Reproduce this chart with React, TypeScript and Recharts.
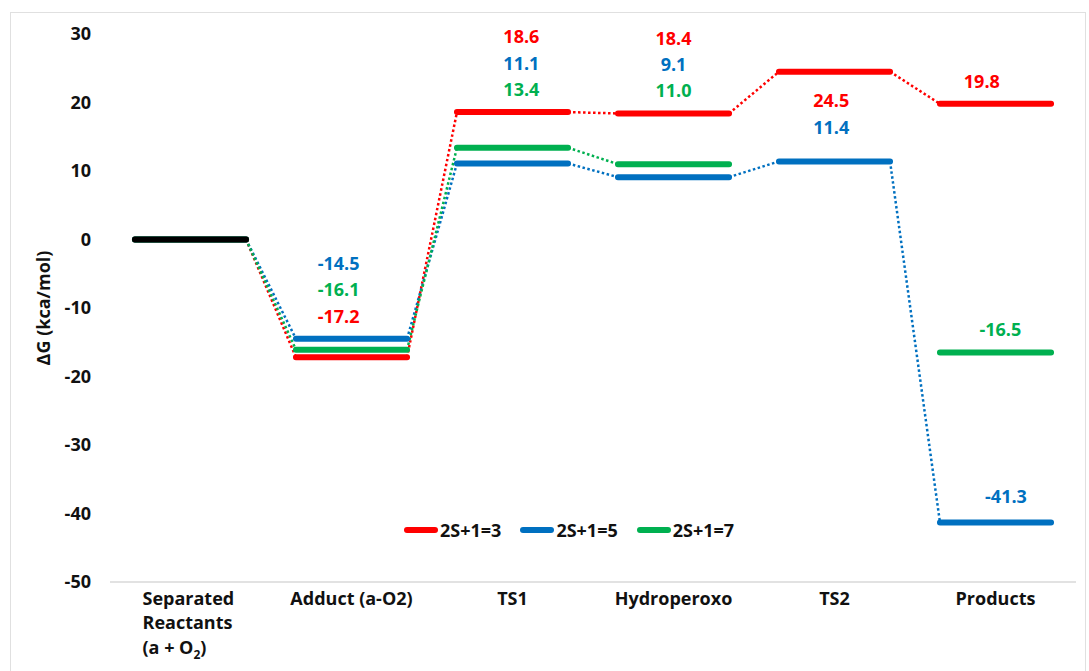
import React from 'react';
import { LineChart, Line, XAxis, YAxis, ReferenceDot, Legend } from 'recharts';

const categories = ['Separated Reactants (a + O2)', 'Adduct (a-O2)', 'TS1', 'Hydroperoxo', 'TS2', 'Products'];
const tripletValues: (number | null)[] = [0, -17.2, 18.6, 18.4, 24.5, 19.8];
const quintetValues: (number | null)[] = [0, -14.5, 11.1, 9.1, 11.4, -41.3];
const septetValues: (number | null)[] = [0, -16.1, 13.4, 11.0, null, -16.5];
const reactantValues: (number | null)[] = [0, null, null, null, null, null];
const seriesNames = ['2S+1=3', '2S+1=5', '2S+1=7'];
const yTicks = [-50, -40, -30, -20, -10, 0, 10, 20, 30];
// order (top to bottom) in which the value labels of each state are listed
const labelOrder: number[][] = [[], [1, 2, 0], [0, 1, 2], [0, 1, 2], [0, 1], [0, 2, 1]];

const COLORS = ['#FF0000', '#0070C0', '#00B050'];
const FONT = '"Open Sans", sans-serif';
const HALF = 0.345;
const seriesValues = [tripletValues, quintetValues, septetValues];
// small horizontal nudges of the value labels (category units)
const catNudge = [0, -0.08, 0.055, 0, -0.02, 0];
const productNudge = [-0.085, 0.065, 0.03];

type Pt = { x: number; y: number | null };

function levelData(values: (number | null)[]): Pt[] {
  const out: Pt[] = [];
  values.forEach((v, i) => {
    if (v === null) return;
    out.push({ x: i - HALF, y: v }, { x: i + HALF, y: v }, { x: i + 0.5, y: null });
  });
  return out;
}

function connectorData(values: (number | null)[]): Pt[] {
  const out: Pt[] = [];
  for (let i = 0; i < values.length - 1; i++) {
    const a = values[i];
    const b = values[i + 1];
    if (a === null || b === null) continue;
    out.push({ x: i + HALF, y: a }, { x: i + 1 - HALF, y: b }, { x: i + 1, y: null });
  }
  return out;
}

type LabelItem = { x: number; y: number; s: number; text: string };
const labelItems: LabelItem[] = [];
categories.forEach((_, i) => {
  const order = labelOrder[i];
  if (!order.length) return;
  const vals = order.map((s) => seriesValues[s][i] as number);
  if (i >= 1 && i <= 3) {
    const top = Math.max(...vals) + 11;
    order.forEach((s, k) => labelItems.push({ x: i + catNudge[i], y: top - k * 3.85, s, text: vals[k].toFixed(1) }));
  } else if (i === 4) {
    const top = vals[0] - 4.2;
    order.forEach((s, k) => labelItems.push({ x: i + catNudge[i], y: top - k * 3.9, s, text: vals[k].toFixed(1) }));
  } else {
    order.forEach((s, k) => labelItems.push({ x: i + productNudge[s], y: vals[k] + (s === 1 ? 3.8 : 3.3), s, text: vals[k].toFixed(1) }));
  }
});

const XTick = (props: any) => {
  const { x, y, payload } = props;
  const idx = payload.value as number;
  const style = { fontFamily: FONT, fontWeight: 700, fontSize: 18, fill: '#111' };
  if (idx === 0) {
    return (
      <g>
        <text x={x - 48} y={y + 15} textAnchor="start" {...style}>Separated</text>
        <text x={x - 48} y={y + 39} textAnchor="start" {...style}>Reactants</text>
        <text x={x - 48} y={y + 64} textAnchor="start" {...style}>
          <tspan>(a + O</tspan>
          <tspan dy={5} fontSize={12}>2</tspan>
          <tspan dy={-5}>)</tspan>
        </text>
      </g>
    );
  }
  return (
    <text x={x} y={y + 15} textAnchor="middle" {...style}>{categories[idx]}</text>
  );
};

const LegendContent = () => (
  <div style={{ display: 'flex', alignItems: 'center', fontFamily: FONT, fontWeight: 700, fontSize: 18, color: '#111' }}>
    {seriesNames.map((n, i) => (
      <div key={n} style={{ display: 'flex', alignItems: 'center', marginRight: 19 }}>
        <div style={{ width: 34, height: 6, borderRadius: 3, background: COLORS[i], marginRight: 2 }} />
        <span>{n}</span>
      </div>
    ))}
  </div>
);

export default function App() {
  return (
    <div style={{ position: 'absolute', left: 0, top: 0, width: 1089, height: 671, background: '#fff', overflow: 'hidden' }}>
      <div style={{ position: 'absolute', left: 10, top: 12, width: 1074, height: 700, border: '1.5px solid #e0e0e0' }} />
      <div style={{ position: 'absolute', left: 0, top: 0 }}>
        <LineChart width={1089} height={671} margin={{ top: 34, right: 13, bottom: 29, left: 50 }}>
          <XAxis
            type="number"
            dataKey="x"
            domain={[-0.5, 5.5]}
            allowDataOverflow
            ticks={[0, 1, 2, 3, 4, 5]}
            tick={<XTick />}
            tickLine={false}
            axisLine={{ stroke: '#d9d9d9', strokeWidth: 1.5 }}
            height={60}
            interval={0}
          />
          <YAxis
            type="number"
            domain={[-50, 30]}
            ticks={yTicks}
            allowDataOverflow
            width={60}
            axisLine={false}
            tickLine={false}
            tickMargin={13}
            tick={{ fontFamily: FONT, fontWeight: 700, fontSize: 18, fill: '#111' }}
            label={{ value: 'ΔG (kca/mol)', angle: -90, position: 'center', dx: -36, style: { fontFamily: FONT, fontWeight: 700, fontSize: 18, fill: '#111' } }}
          />
          <Legend verticalAlign="middle" content={<LegendContent />} wrapperStyle={{ top: 518, left: 404, width: 420 }} />
          {seriesValues.map((vals, s) => (
            <Line
              key={'c' + s}
              data={connectorData(vals)}
              dataKey="y"
              stroke={COLORS[s]}
              strokeWidth={2.5}
              strokeDasharray="2.5 2.5"
              dot={false}
              activeDot={false}
              connectNulls={false}
              isAnimationActive={false}
              legendType="none"
            />
          ))}
          {seriesValues.map((vals, s) => (
            <Line
              key={'l' + s}
              data={levelData(vals)}
              dataKey="y"
              name={seriesNames[s]}
              stroke={COLORS[s]}
              strokeWidth={6}
              strokeLinecap="round"
              dot={false}
              activeDot={false}
              connectNulls={false}
              isAnimationActive={false}
            />
          ))}
          <Line
            data={levelData(reactantValues)}
            dataKey="y"
            stroke="#000"
            strokeWidth={6}
            strokeLinecap="round"
            dot={false}
            activeDot={false}
            connectNulls={false}
            isAnimationActive={false}
            legendType="none"
          />
          {labelItems.map((l, k) => (
            <ReferenceDot
              key={'lab' + k}
              x={l.x}
              y={l.y}
              r={1}
              fill="transparent"
              stroke="none"
              label={{ value: l.text, position: 'center', fill: COLORS[l.s], fontSize: 18, fontWeight: 700, fontFamily: FONT }}
            />
          ))}
        </LineChart>
      </div>
    </div>
  );
}
